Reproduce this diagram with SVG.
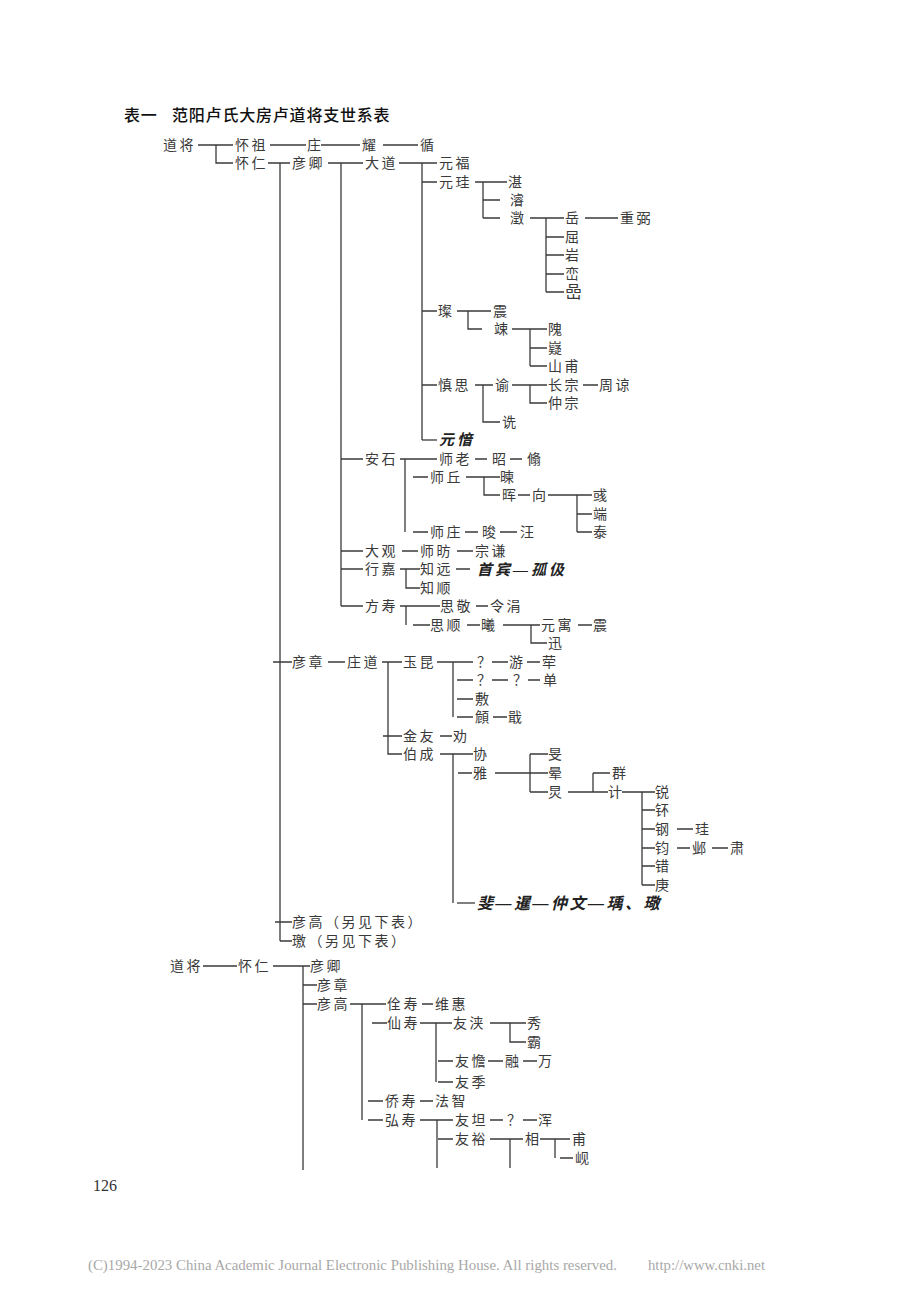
<svg xmlns="http://www.w3.org/2000/svg" width="920" height="1302" viewBox="0 0 920 1302">
<style>
.t{font-family:"Liberation Serif","Noto Sans CJK SC",serif;font-size:14px;fill:#3a3a3a;letter-spacing:2.5px}
.i{font-family:"Liberation Serif","Noto Sans CJK SC",serif;font-size:15px;fill:#222;font-style:italic;font-weight:bold;letter-spacing:3px}
.h{font-family:"Liberation Sans","Noto Sans CJK SC",sans-serif;font-size:16px;fill:#111;font-weight:500;letter-spacing:0.8px}
.c{fill:none;stroke:#3a3a3a;stroke-width:1.3}
.f{font-family:"Liberation Serif",serif;font-size:15px;fill:#a8a8a8}
.p{font-family:"Liberation Serif",serif;font-size:16px;fill:#333}
</style>
<rect width="920" height="1302" fill="#fff"/>
<g id="title"><text class="h" x="124" y="121">表一</text><text class="h" x="172" y="121">范阳卢氏大房卢道将支世系表</text></g>
<g id="connectors">
<path class="c" d="M198 145H233M216 145V163H233M270 145H306M321 145H360M383 145H418
M268 163H290M280 163V941M328 163H363M341 163V606M399 163H437M422 163V440
M422 182H437M475 182H507M483 182V218M483 200H500M483 218H500M530 218H564M546 218V292M585 218H618
M546 237H564M546 255H564M546 274H564M546 292H564
M422 311H437M457 311H491M468 311V329H482M512 329H547M530 329V366M530 348H547M530 366H547
M422 385H437M475 385H493M483 385V422H500M512 385H547M530 385V403H547M583 385H598"/>
<path class="c" d="M422 440H437" stroke-width="2"/>
<path class="c" d="M341 459H363M400 459H437M405 459V532M475 459H487M510 459H522
M413 477H428M466 477H500M484 477V495H500M518 495H530M548 495H592M577 495V532M577 514H592M577 532H592
M413 532H428M465 532H478M500 532H517
M341 551H363M402 551H418M457 551H473
M341 569H363M400 569H420M406 569V588H420M456 569H470
M341 606H363M400 606H440M406 606V625M413 625H430M476 606H488
M467 625H480M503 625H540M531 625V643H547M578 625H592"/>
<path class="c" d="M273 662H292M328 662H345M382 662H402M388 662V754H402M437 662H473M453 662V717
M492 662H508M527 662H540M457 680H473M492 680H508M528 680H540M457 699H473M457 717H473M493 717H507
M383 736H402M440 736H452M440 754H473M453 754V903
M458 773H472M495 773H548M530 754V792M530 754H548M530 792H548
M568 792H608M593 773V792M593 773H610M622 792H655M642 792V885
M642 810H655M642 829H655M642 848H655M642 866H655M642 885H655
M677 829H693M677 848H690M712 848H728
M275 922H292M280 941H292"/>
<path class="c" d="M457 903H475" stroke-width="2"/>
<path class="c" d="M203 966H237M273 966H310M303 966V1170M303 985H317M303 1004H317M350 1004H386M362 1004V1120M422 1004H433
M372 1023H387M420 1023H452M436 1023V1082M490 1023H526M510 1023V1042H526
M438 1061H453M488 1061H503M523 1061H537M438 1082H453
M368 1101H383M420 1101H433M368 1120H383M420 1120H453M437 1120V1168M490 1120H503M523 1120H537
M438 1139H453M490 1139H523M510 1139V1168M540 1139H570M555 1139V1158M560 1158H573"/>
</g>
<g id="n1"><text class="t" x="163" y="150">道将</text></g>
<g id="n2"><text class="t" x="235" y="150">怀祖</text></g>
<g id="n3"><text class="t" x="307" y="150">庄</text></g>
<g id="n4"><text class="t" x="362" y="150">耀</text></g>
<g id="n5"><text class="t" x="420" y="150">循</text></g>
<g id="n6"><text class="t" x="235" y="168">怀仁</text></g>
<g id="n7"><text class="t" x="292" y="168">彦卿</text></g>
<g id="n8"><text class="t" x="365" y="168">大道</text></g>
<g id="n9"><text class="t" x="439" y="168">元福</text></g>
<g id="n10"><text class="t" x="439" y="187">元珪</text></g>
<g id="n11"><text class="t" x="508" y="187">湛</text></g>
<g id="n12"><text class="t" x="510" y="205">濬</text></g>
<g id="n13"><text class="t" x="510" y="223">澂</text></g>
<g id="n14"><text class="t" x="565" y="223">岳</text></g>
<g id="n15"><text class="t" x="620" y="223">重弼</text></g>
<g id="n16"><text class="t" x="565" y="242">屈</text></g>
<g id="n17"><text class="t" x="565" y="260">岩</text></g>
<g id="n18"><text class="t" x="565" y="279">峦</text></g>
<g id="n19"><text class="t" x="565" y="298" style="font-size:17px">嵒</text></g>
<g id="n20"><text class="t" x="438" y="316">璨</text></g>
<g id="n21"><text class="t" x="493" y="316">震</text></g>
<g id="n22"><text class="t" x="494" y="334">竦</text></g>
<g id="n23"><text class="t" x="548" y="334">隗</text></g>
<g id="n24"><text class="t" x="548" y="353">嶷</text></g>
<g id="n25"><text class="t" x="548" y="371">山甫</text></g>
<g id="n26"><text class="t" x="438" y="390">慎思</text></g>
<g id="n27"><text class="t" x="495" y="390">谕</text></g>
<g id="n28"><text class="t" x="548" y="390">长宗</text></g>
<g id="n29"><text class="t" x="599" y="390">周谅</text></g>
<g id="n30"><text class="t" x="548" y="408">仲宗</text></g>
<g id="n31"><text class="t" x="502" y="427">诜</text></g>
<g id="n32"><text class="i" x="439" y="445">元愔</text></g>
<g id="n33"><text class="t" x="365" y="464">安石</text></g>
<g id="n34"><text class="t" x="439" y="464">师老</text></g>
<g id="n35"><text class="t" x="492" y="464">昭</text></g>
<g id="n36"><text class="t" x="527" y="464">翛</text></g>
<g id="n37"><text class="t" x="430" y="482">师丘</text></g>
<g id="n38"><text class="t" x="500" y="482">暕</text></g>
<g id="n39"><text class="t" x="502" y="500">晖</text></g>
<g id="n40"><text class="t" x="532" y="500">向</text></g>
<g id="n41"><text class="t" x="593" y="500">彧</text></g>
<g id="n42"><text class="t" x="593" y="519">端</text></g>
<g id="n43"><text class="t" x="593" y="537">泰</text></g>
<g id="n44"><text class="t" x="430" y="537">师庄</text></g>
<g id="n45"><text class="t" x="482" y="537">晙</text></g>
<g id="n46"><text class="t" x="520" y="537">汪</text></g>
<g id="n47"><text class="t" x="365" y="556">大观</text></g>
<g id="n48"><text class="t" x="420" y="556">师昉</text></g>
<g id="n49"><text class="t" x="475" y="556">宗谦</text></g>
<g id="n50"><text class="t" x="365" y="574">行嘉</text></g>
<g id="n51"><text class="t" x="420" y="574">知远</text></g>
<g id="n52"><text class="i" x="477" y="575">首宾—孤伋</text></g>
<g id="n53"><text class="t" x="420" y="593">知顺</text></g>
<g id="n54"><text class="t" x="365" y="611">方寿</text></g>
<g id="n55"><text class="t" x="440" y="611">思敬</text></g>
<g id="n56"><text class="t" x="490" y="611">令涓</text></g>
<g id="n57"><text class="t" x="430" y="630">思顺</text></g>
<g id="n58"><text class="t" x="481" y="630">曦</text></g>
<g id="n59"><text class="t" x="541" y="630">元寓</text></g>
<g id="n60"><text class="t" x="593" y="630">震</text></g>
<g id="n61"><text class="t" x="548" y="648">迅</text></g>
<g id="n62"><text class="t" x="292" y="667">彦章</text></g>
<g id="n63"><text class="t" x="347" y="667">庄道</text></g>
<g id="n64"><text class="t" x="403" y="667">玉昆</text></g>
<g id="n65"><text class="t" x="477" y="667">？</text></g>
<g id="n66"><text class="t" x="509" y="667">游</text></g>
<g id="n67"><text class="t" x="542" y="667">荦</text></g>
<g id="n68"><text class="t" x="477" y="685">？</text></g>
<g id="n69"><text class="t" x="513" y="685">？</text></g>
<g id="n70"><text class="t" x="543" y="685">单</text></g>
<g id="n71"><text class="t" x="475" y="704">敷</text></g>
<g id="n72"><text class="t" x="475" y="722">頠</text></g>
<g id="n73"><text class="t" x="508" y="722">戢</text></g>
<g id="n74"><text class="t" x="403" y="741">金友</text></g>
<g id="n75"><text class="t" x="453" y="741">劝</text></g>
<g id="n76"><text class="t" x="403" y="759">伯成</text></g>
<g id="n77"><text class="t" x="473" y="759">协</text></g>
<g id="n78"><text class="t" x="548" y="759">旻</text></g>
<g id="n79"><text class="t" x="473" y="778">雅</text></g>
<g id="n80"><text class="t" x="548" y="778">晕</text></g>
<g id="n81"><text class="t" x="612" y="778">群</text></g>
<g id="n82"><text class="t" x="548" y="797">炅</text></g>
<g id="n83"><text class="t" x="608" y="797">计</text></g>
<g id="n84"><text class="t" x="655" y="797">锐</text></g>
<g id="n85"><text class="t" x="655" y="815">钚</text></g>
<g id="n86"><text class="t" x="655" y="834">钢</text></g>
<g id="n87"><text class="t" x="695" y="834">珪</text></g>
<g id="n88"><text class="t" x="655" y="853">钧</text></g>
<g id="n89"><text class="t" x="692" y="853">邺</text></g>
<g id="n90"><text class="t" x="730" y="853">肃</text></g>
<g id="n91"><text class="t" x="655" y="871">错</text></g>
<g id="n92"><text class="t" x="655" y="890">庚</text></g>
<g id="n93"><text class="i" x="477" y="909" style="font-size:16px;letter-spacing:2.5px">斐—暹—仲文—瑀、璥</text></g>
<g id="n94"><text class="t" x="292" y="927">彦高（另见下表）</text></g>
<g id="n95"><text class="t" x="292" y="946">璬（另见下表）</text></g>
<g id="m1"><text class="t" x="170" y="971">道将</text></g>
<g id="m2"><text class="t" x="238" y="971">怀仁</text></g>
<g id="m3"><text class="t" x="310" y="971">彦卿</text></g>
<g id="m4"><text class="t" x="317" y="990">彦章</text></g>
<g id="m5"><text class="t" x="317" y="1009">彦高</text></g>
<g id="m6"><text class="t" x="387" y="1009">佺寿</text></g>
<g id="m7"><text class="t" x="435" y="1009">维惠</text></g>
<g id="m8"><text class="t" x="387" y="1028">仙寿</text></g>
<g id="m9"><text class="t" x="453" y="1028">友浃</text></g>
<g id="m10"><text class="t" x="527" y="1028">秀</text></g>
<g id="m11"><text class="t" x="527" y="1047">霸</text></g>
<g id="m12"><text class="t" x="455" y="1066">友憺</text></g>
<g id="m13"><text class="t" x="505" y="1066">融</text></g>
<g id="m14"><text class="t" x="538" y="1066">万</text></g>
<g id="m15"><text class="t" x="455" y="1087">友季</text></g>
<g id="m16"><text class="t" x="385" y="1106">侨寿</text></g>
<g id="m17"><text class="t" x="435" y="1106">法智</text></g>
<g id="m18"><text class="t" x="385" y="1125">弘寿</text></g>
<g id="m19"><text class="t" x="455" y="1125">友坦</text></g>
<g id="m20"><text class="t" x="507" y="1125">？</text></g>
<g id="m21"><text class="t" x="538" y="1125">浑</text></g>
<g id="m22"><text class="t" x="455" y="1144">友裕</text></g>
<g id="m23"><text class="t" x="525" y="1144">相</text></g>
<g id="m24"><text class="t" x="572" y="1144">甫</text></g>
<g id="m25"><text class="t" x="575" y="1163">岘</text></g>
<g id="page"><text class="p" x="93" y="1191">126</text></g>
<g id="footer"><text class="f" x="88" y="1270" textLength="529" lengthAdjust="spacingAndGlyphs">(C)1994-2023 China Academic Journal Electronic Publishing House. All rights reserved.</text><text class="f" x="648" y="1270" textLength="117" lengthAdjust="spacingAndGlyphs">http://www.cnki.net</text></g>
</svg>
